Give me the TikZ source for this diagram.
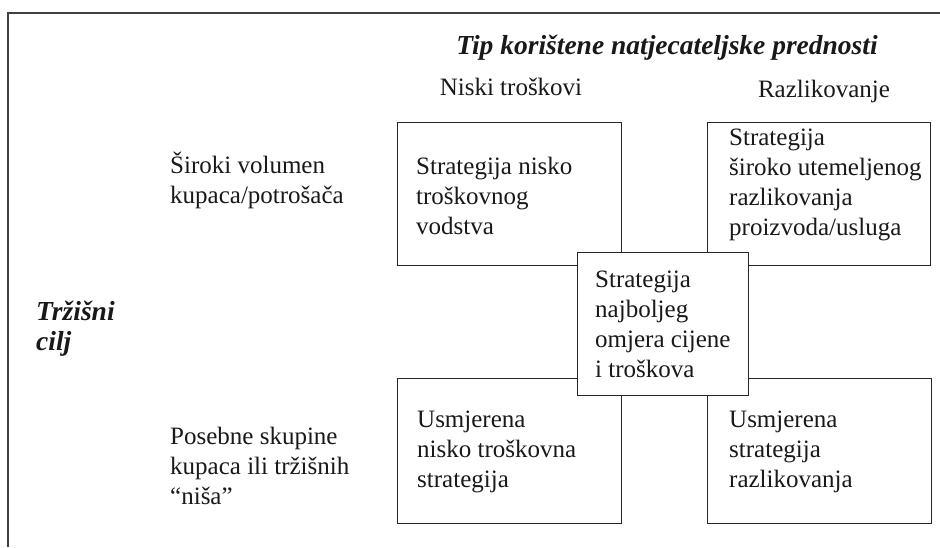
\documentclass[tikz,border=0pt]{standalone}
\usepackage{fontspec}
\setmainfont{Liberation Serif}
\usetikzlibrary{positioning}
\newcommand{\rows}[1]{\begin{tabular}[t]{@{}l@{}}#1\end{tabular}}
\begin{document}
\begin{tikzpicture}[x=1pt, y=-1pt, font=\fontsize{25}{30}\selectfont,
    box/.style={draw=black!85, line width=1.2pt, anchor=north west, inner sep=0pt},
    txt/.style={anchor=base west, inner sep=0pt, text=black!90},
    head/.style={txt, font=\fontsize{27.5}{30}\selectfont\bfseries\itshape}]
    \useasboundingbox (0,0) rectangle (940,547);
    % okvir
    \draw[black!75, line width=1.2pt] (8,547) -- (8,13) -- (940,13);

    % naslovi
    \node[head, anchor=base] (prednost) at (667,54) {Tip korištene natjecateljske prednosti};
    \node[txt, anchor=base] (niski) at (511,95) {Niski troškovi};
    \node[txt, anchor=base] (razlik) at (824,97) {Razlikovanje};
    \node[head] (cilj) at (36,320) {\rows{Tržišni\\cilj}};
    \node[txt] (sirok) at (170,173) {\rows{Široki volumen\\kupaca/potrošača}};
    \node[txt] (posebne) at (170,444) {\rows{Posebne skupine\\kupaca ili tržišnih\\“niša”}};

    % kutije
    \node[box, minimum width=224, minimum height=143] (tl) at (397,122) {};
    \node[box, minimum width=223, minimum height=143] (tr) at (707,122) {};
    \node[box, minimum width=224, minimum height=145] (bl) at (397,378) {};
    \node[box, minimum width=224, minimum height=145] (br) at (707,378) {};
    \node[box, fill=white, minimum width=171, minimum height=143] (mid) at (577,252) {};

    % tekst u kutijama
    \node[txt] (tltext) at (416,174) {\rows{Strategija nisko\\troškovnog\\vodstva}};
    \node[txt] (trtext) at (729,145) {\rows{Strategija\\široko utemeljenog\\razlikovanja\\proizvoda/usluga}};
    \node[txt] (midtext) at (595,287) {\rows{Strategija\\najboljeg\\omjera cijene\\i troškova}};
    \node[txt] (bltext) at (417,427) {\rows{Usmjerena\\nisko troškovna\\strategija}};
    \node[txt] (brtext) at (729,427) {\rows{Usmjerena\\strategija\\razlikovanja}};
\end{tikzpicture}
\end{document}
